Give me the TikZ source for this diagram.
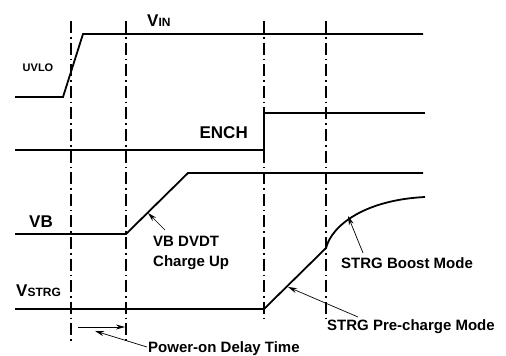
\documentclass[tikz,border=0pt]{standalone}
\usepackage{fontspec}
\setmainfont{Liberation Sans}
\usetikzlibrary{arrows.meta}
\begin{document}
\begin{tikzpicture}[x=1pt,y=-1pt,
  sig/.style={line width=1.8pt, line join=miter},
  guide/.style={line width=1.6pt, dash pattern=on 12pt off 4pt on 1.6pt off 4pt},
  lbl/.style={font=\bfseries\fontsize{15}{20}\selectfont, inner sep=0pt},
  big/.style={font=\bfseries\fontsize{17}{20}\selectfont, inner sep=0pt},
  small/.style={font=\bfseries\fontsize{11}{12}\selectfont, inner sep=0pt},
  leader/.style={line width=0.7pt, -{Stealth[length=9pt,width=5pt]}},
]
\useasboundingbox (0,0) rectangle (506,356);

% guide lines
\draw[guide] (71,21) -- (71,343);
\draw[guide] (126,21) -- (126,343);
\draw[guide] (264,21) -- (264,322);
\draw[guide] (326,21) -- (326,320);

% signals
\draw[sig] (15,97) -- (63,97) -- (83,34) -- (423,34);
\draw[sig] (15,150) -- (264,150) -- (264,113) -- (425,113);
\draw[sig] (15,234) -- (126,234) -- (188,173) -- (423,173);
\draw[sig] (15,309) -- (264,309) -- (326,248) .. controls (332,225) and (365,200) .. (425,197);

% labels
\node[big, anchor=base west] (vin) at (147,26) {V{\fontsize{12}{12}\selectfont IN}};
\node[small] (uvlo) at (38,68) {UVLO};
\node[big, anchor=base east] (ench) at (248,138) {ENCH};
\node[big, anchor=base west] (vb) at (29,227) {VB};
\node[big, anchor=base west] (vstrg) at (16,296) {V{\fontsize{12}{12}\selectfont STRG}};
\node[lbl, anchor=north west, align=left] (dvdt) at (153,236) {VB DVDT\\Charge Up};
\node[lbl, anchor=base west] (boost) at (341,268) {STRG Boost Mode};
\node[lbl, anchor=base west] (pre) at (327,330) {STRG Pre-charge Mode};
\node[lbl, anchor=base west] (delay) at (148,352) {Power-on Delay Time};

% leader coordinates
\coordinate (dvdttail) at (165,230);
\coordinate (dvdttip) at (148,213);
\coordinate (boosttail) at (363,253);
\coordinate (boosttip) at (348,216);
\coordinate (pretail) at (358,317);
\coordinate (pretip) at (288,287);
\coordinate (delaytail) at (147,347);
\coordinate (delaytip) at (95,331);
\coordinate (dimstart) at (78,327);
\coordinate (dimend) at (125,327);

\draw[leader] (dvdttail) -- (dvdttip);
\draw[leader] (boosttail) -- (boosttip);
\draw[leader] (pretail) -- (pretip);
\draw[leader] (delaytail) -- (delaytip);
\draw[leader] (dimstart) -- (dimend);
\end{tikzpicture}
\end{document}
